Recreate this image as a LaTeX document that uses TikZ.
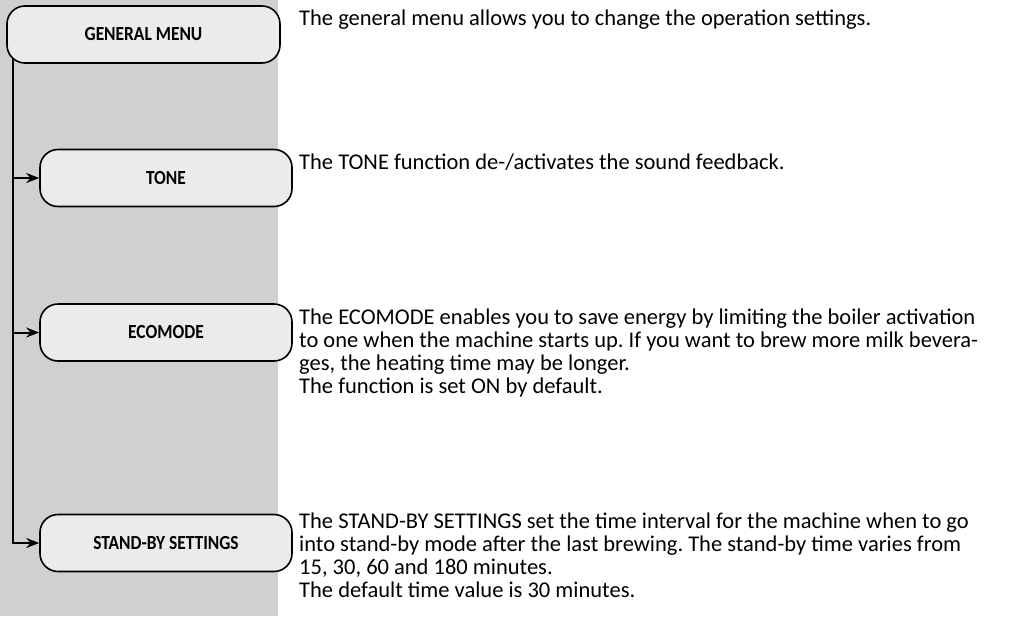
\documentclass[tikz,border=0pt]{standalone}
\usepackage{fontspec}
\setmainfont{Carlito}
\frenchspacing
\usetikzlibrary{arrows.meta,backgrounds}
\definecolor{panelgray}{HTML}{D0D0D0}
\definecolor{boxfill}{HTML}{EBEBEB}
\tikzset{
  menubox/.style={draw=black, line width=1.6pt, fill=boxfill, rounded corners=18pt,
    minimum height=57pt, inner sep=0pt, font=\fontsize{20}{24}\selectfont\bfseries},
  conn/.style={line width=2pt, -{Stealth[length=13pt,width=10pt]}},
  desc/.style={anchor=north west, align=left, inner sep=0pt,
    font=\fontsize{22.5}{23}\selectfont\frenchspacing}
}
\newcommand{\cnd}[1]{\scalebox{0.87}[1]{#1}}
\begin{document}
\begin{tikzpicture}[x=1pt,y=-1pt]
\useasboundingbox (0,0) rectangle (1019,616);
\node[menubox, minimum width=273pt] (gm) at (143.5,34.5) {\cnd{GENERAL MENU}};
\node[menubox, minimum width=252pt] (tone) at (166,178) {\cnd{TONE}};
\node[menubox, minimum width=252pt] (eco) at (166,332.5) {\cnd{ECOMODE}};
\node[menubox, minimum width=252pt] (sb) at (166,543) {\cnd{STAND-BY SETTINGS}};
\coordinate (trunk) at (12.5,58);
\begin{scope}[on background layer]
\fill[panelgray] (0,0) rectangle (278,616);
\draw[conn] (trunk) |- (sb.west);
\draw[conn] (trunk |- tone.west) -- (tone.west);
\draw[conn] (trunk |- eco.west) -- (eco.west);
\end{scope}
\node[desc] (d1) at (299,9) {\strut The general menu allows you to change the operation settings.};
\node[desc] (d2) at (299,153) {\strut The TONE function de-/activates the sound feedback.};
\node[desc] (d3) at (299,308) {\strut The ECOMODE enables you to save energy by limiting the boiler activation\\
to one when the machine starts up. If you want to brew more milk bevera-\\
ges, the heating time may be longer.\\
The function is set ON by default.};
\node[desc] (d4) at (299,512) {\strut The STAND-BY SETTINGS set the time interval for the machine when to go\\
into stand-by mode after the last brewing. The stand-by time varies from\\
15, 30, 60 and 180 minutes.\\
The default time value is 30 minutes.};
\end{tikzpicture}
\end{document}
